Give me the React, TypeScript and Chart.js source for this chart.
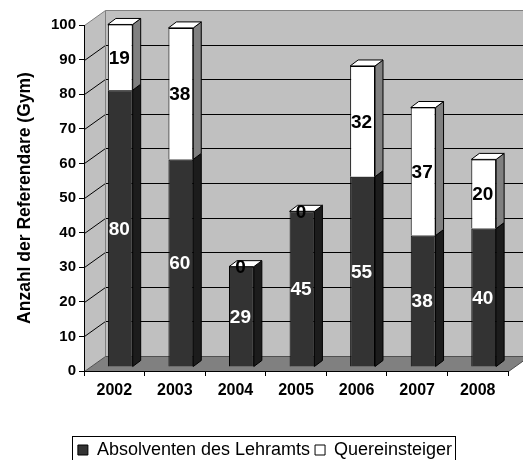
import React, { useEffect, useRef } from "react";
import { Chart, registerables } from "chart.js";

Chart.register(...registerables);

// ---- data ----
const years = ["2002", "2003", "2004", "2005", "2006", "2007", "2008"];
const absolventen = [80, 60, 29, 45, 55, 38, 40];
const quereinsteiger = [19, 38, 0, 0, 32, 37, 20];
const seriesNames = ["Absolventen des Lehramts", "Quereinsteiger"];
const yTitle = "Anzahl der Referendare (Gym)";
const yMin = 0;
const yMax = 100;
const yStep = 10;

// ---- styles ----
const FONT = "'Liberation Sans', Arial, sans-serif";
const WALL_DX = 21;
const WALL_DY = 15;
const BAR_OFF_X = 6;
const BAR_OFF_Y = 4;
const BAR_DX = 8;
const BAR_DY = 6;
const LEGEND_SHIFT = 11;
const FRONT_COLORS = ["#333333", "#ffffff"];
const SIDE_COLORS = ["#1c1c1c", "#808080"];
const TOP_COLORS = ["#333333", "#ffffff"];
const LABEL_COLORS = ["#ffffff", "#000000"];

function poly(ctx: CanvasRenderingContext2D, pts: number[][], fill: string | null, stroke: string | null) {
  ctx.beginPath();
  pts.forEach((p, i) => (i === 0 ? ctx.moveTo(p[0], p[1]) : ctx.lineTo(p[0], p[1])));
  ctx.closePath();
  if (fill) {
    ctx.fillStyle = fill;
    ctx.fill();
  }
  if (stroke) {
    ctx.strokeStyle = stroke;
    ctx.lineWidth = 1;
    ctx.stroke();
  }
}

function line(ctx: CanvasRenderingContext2D, pts: number[][], color: string) {
  ctx.beginPath();
  pts.forEach((p, i) => (i === 0 ? ctx.moveTo(p[0], p[1]) : ctx.lineTo(p[0], p[1])));
  ctx.strokeStyle = color;
  ctx.lineWidth = 1;
  ctx.stroke();
}

const wallsPlugin = {
  id: "walls3d",
  afterLayout(chart: any) {
    const lg = chart.legend;
    if (lg) {
      lg.left += LEGEND_SHIFT;
      lg.right += LEGEND_SHIFT;
    }
  },
  beforeDraw(chart: any) {
    const { ctx, chartArea: a, scales } = chart;
    const y = scales.y;
    const L = Math.round(a.left) + 0.5;
    const R = Math.round(a.right) + 0.5;
    const T = Math.round(y.getPixelForValue(yMax)) + 0.5;
    const B = Math.round(y.getPixelForValue(yMin)) + 0.5;
    ctx.save();
    ctx.fillStyle = "#ffffff";
    ctx.fillRect(0, 0, chart.width, chart.height);
    // back wall
    poly(ctx, [[L + WALL_DX, T - WALL_DY], [R + WALL_DX, T - WALL_DY], [R + WALL_DX, B - WALL_DY], [L + WALL_DX, B - WALL_DY]], "#c0c0c0", null);
    // left wall
    poly(ctx, [[L, B], [L, T], [L + WALL_DX, T - WALL_DY], [L + WALL_DX, B - WALL_DY]], "#c0c0c0", null);
    // floor
    poly(ctx, [[L, B], [R, B], [R + WALL_DX, B - WALL_DY], [L + WALL_DX, B - WALL_DY]], "#808080", null);
    // grid lines
    y.ticks.forEach((t: any) => {
      if (t.value <= yMin || t.value >= yMax) return;
      const py = Math.round(y.getPixelForValue(t.value)) + 0.5;
      line(ctx, [[L, py], [L + WALL_DX, py - WALL_DY], [R + WALL_DX, py - WALL_DY]], "#000000");
    });
    // wall borders
    line(ctx, [[L, T], [L + WALL_DX, T - WALL_DY], [R + WALL_DX, T - WALL_DY]], "#808080");
    line(ctx, [[L + WALL_DX, T - WALL_DY], [L + WALL_DX, B - WALL_DY]], "#808080");
    line(ctx, [[L, B], [L + WALL_DX, B - WALL_DY], [R + WALL_DX, B - WALL_DY]], "#505050");
    line(ctx, [[R, B], [R + WALL_DX, B - WALL_DY]], "#505050");
    ctx.restore();
  },
};

const barsPlugin = {
  id: "bars3d",
  beforeDatasetsDraw(chart: any) {
    chart.ctx.save();
    chart.ctx.translate(BAR_OFF_X, -BAR_OFF_Y);
  },
  afterDatasetsDraw(chart: any) {
    const ctx = chart.ctx;
    const n = chart.data.datasets.length;
    const geo = (bar: any) => {
      const p = bar.getProps(["x", "y", "base", "width"], true);
      const left = p.x - p.width / 2;
      const right = p.x + p.width / 2;
      const top = Math.min(p.y, p.base);
      const bot = Math.max(p.y, p.base);
      return { x: p.x, left, right, top, bot };
    };
    // side faces
    for (let di = 0; di < n; di++) {
      const meta = chart.getDatasetMeta(di);
      meta.data.forEach((bar: any) => {
        const g = geo(bar);
        if (g.bot - g.top < 0.5) return;
        poly(ctx, [[g.right, g.top], [g.right + BAR_DX, g.top - BAR_DY], [g.right + BAR_DX, g.bot - BAR_DY], [g.right, g.bot]], SIDE_COLORS[di], "#000000");
      });
    }
    // top faces (top-most segment)
    const topMeta = chart.getDatasetMeta(n - 1);
    topMeta.data.forEach((bar: any) => {
      const g = geo(bar);
      poly(ctx, [[g.left, g.top], [g.left + BAR_DX, g.top - BAR_DY], [g.right + BAR_DX, g.top - BAR_DY], [g.right, g.top]], TOP_COLORS[n - 1], "#000000");
    });
    // value labels
    ctx.font = `bold 19px ${FONT}`;
    ctx.textAlign = "center";
    ctx.textBaseline = "middle";
    for (let di = 0; di < n; di++) {
      const meta = chart.getDatasetMeta(di);
      const vals = chart.data.datasets[di].data;
      meta.data.forEach((bar: any, i: number) => {
        const g = geo(bar);
        ctx.fillStyle = LABEL_COLORS[di];
        ctx.fillText(String(vals[i]), g.x - 1, (g.top + g.bot) / 2 + 1);
      });
    }
    ctx.restore();
  },
};

const legendBoxPlugin = {
  id: "legendBox",
  afterDraw(chart: any) {
    const lg = chart.legend;
    if (!lg || !lg.legendHitBoxes || !lg.legendHitBoxes.length) return;
    const hb = lg.legendHitBoxes;
    const l = Math.min(...hb.map((b: any) => b.left)) - 6;
    const r = Math.max(...hb.map((b: any) => b.left + b.width)) + 3;
    const ctx = chart.ctx;
    ctx.save();
    ctx.strokeStyle = "#000000";
    ctx.lineWidth = 1;
    ctx.strokeRect(Math.round(l) + 0.5, Math.round(lg.top) + 0.5, Math.round(r - l), 40);
    ctx.restore();
  },
};

export default function App() {
  const ref = useRef<HTMLCanvasElement | null>(null);
  useEffect(() => {
    if (!ref.current) return;
    Chart.defaults.font.family = FONT;
    const chart = new Chart(ref.current, {
      type: "bar",
      data: {
        labels: years,
        datasets: [
          {
            label: seriesNames[0],
            data: absolventen,
            backgroundColor: FRONT_COLORS[0],
            borderColor: "#000000",
            borderWidth: 1,
            categoryPercentage: 1,
            barPercentage: 0.41,
          },
          {
            label: seriesNames[1],
            data: quereinsteiger,
            backgroundColor: FRONT_COLORS[1],
            borderColor: "#000000",
            borderWidth: 1,
            categoryPercentage: 1,
            barPercentage: 0.41,
          },
        ],
      },
      options: {
        responsive: false,
        animation: false,
        devicePixelRatio: 1,
        layout: { padding: { top: 25, right: 15, left: 0, bottom: -9 } },
        plugins: {
          tooltip: { enabled: false },
          legend: {
            position: "bottom",
            labels: {
              boxWidth: 10,
              boxHeight: 10,
              padding: 5,
              color: "#000000",
              font: { size: 18, family: FONT },
            },
          },
        },
        scales: {
          x: {
            stacked: true,
            offset: true,
            grid: { drawOnChartArea: false, drawTicks: true, tickLength: 5, color: "#000000", offset: true },
            border: { display: true, color: "#000000" },
            ticks: { color: "#000000", padding: 5, font: { size: 16, weight: "bold", family: FONT } },
            afterFit: (s: any) => {
              s.height = 65;
            },
          },
          y: {
            stacked: true,
            min: yMin,
            max: yMax,
            ticks: { stepSize: yStep, color: "#000000", padding: 3, font: { size: 15, weight: "bold", family: FONT } },
            grid: { drawOnChartArea: false, drawTicks: true, tickLength: 5, color: "#000000" },
            border: { display: true, color: "#000000" },
            title: {
              display: true,
              text: yTitle,
              color: "#000000",
              padding: { top: 15, bottom: 0 },
              font: { size: 17.5, weight: "bold", family: FONT },
            },
            afterFit: (s: any) => {
              s.width = 84;
            },
          },
        },
      },
      plugins: [wallsPlugin, barsPlugin, legendBoxPlugin],
    } as any);
    return () => chart.destroy();
  }, []);
  return (
    <div style={{ position: "absolute", left: 0, top: 0, width: 523, height: 460, background: "#fff" }}>
      <canvas ref={ref} width={523} height={460} style={{ display: "block" }} />
    </div>
  );
}
